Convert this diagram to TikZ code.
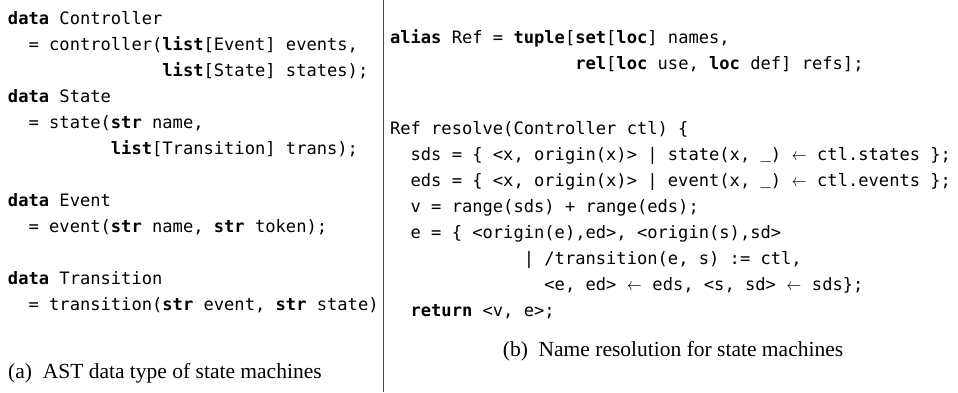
\documentclass[tikz,border=0pt]{standalone}
\usepackage{fontspec}
\setmainfont{Liberation Serif}
\setmonofont{DejaVu Sans Mono}
\newcommand{\kw}[1]{\textbf{#1}}
\newcommand{\larr}{\makebox[0.9em][c]{\scalebox{0.85}[1]{$\leftarrow$}}}
\newcommand{\usc}{\raisebox{1.5pt}{\_}}
\tikzset{
  codeline/.style={anchor=base west, inner sep=0pt, outer sep=0pt, font=\ttfamily\fontsize{17.1}{20}\selectfont},
  captiontext/.style={inner sep=0pt, font=\fontsize{21.5}{24}\selectfont},
  divider/.style={draw=black!70, line width=1pt}
}
\begin{document}
\begin{tikzpicture}[x=1pt,y=-1pt]
\useasboundingbox (0,0) rectangle (958,392);
% left column
\node[codeline] (l1) at (8,24) {\kw{data} Controller};
\node[codeline] (l2) at (8,50) {~~= controller(\kw{list}[Event] events,};
\node[codeline] (l3) at (8,76) {~~~~~~~~~~~~~~~\kw{list}[State] states);};
\node[codeline] (l4) at (8,102) {\kw{data} State};
\node[codeline] (l5) at (8,128) {~~= state(\kw{str} name,};
\node[codeline] (l6) at (8,154) {~~~~~~~~~~\kw{list}[Transition] trans);};
\node[codeline] (l7) at (8,206) {\kw{data} Event};
\node[codeline] (l8) at (8,232) {~~= event(\kw{str} name, \kw{str} token);};
\node[codeline] (l9) at (8,284) {\kw{data} Transition};
\node[codeline] (l10) at (8,310) {~~= transition(\kw{str} event, \kw{str} state)};
\node[captiontext, anchor=base west] (capa) at (8,378) {(a)\hspace{0.5em}AST data type of state machines};
% divider
\coordinate (dtop) at (383,0);
\coordinate (dbot) at (383,392);
\draw[divider] (dtop) -- (dbot);
% right column
\node[codeline] (r1) at (390,43) {\kw{alias} Ref = \kw{tuple}[\kw{set}[\kw{loc}] names,};
\node[codeline] (r2) at (390,69) {~~~~~~~~~~~~~~~~~~\kw{rel}[\kw{loc} use, \kw{loc} def] refs];};
\node[codeline] (r3) at (390,134) {Ref resolve(Controller ctl) \{};
\node[codeline] (r4) at (390,160) {~~sds = \{ <x, origin(x)> | state(x, \usc) \larr{} ctl.states \};};
\node[codeline] (r5) at (390,186) {~~eds = \{ <x, origin(x)> | event(x, \usc) \larr{} ctl.events \};};
\node[codeline] (r6) at (390,212) {~~v = range(sds) + range(eds);};
\node[codeline] (r7) at (390,238) {~~e = \{ <origin(e),ed>, <origin(s),sd>};
\node[codeline] (r8) at (390,264) {~~~~~~~~~~~~~| /transition(e, s) := ctl,};
\node[codeline] (r9) at (390,290) {~~~~~~~~~~~~~~~<e, ed> \larr{} eds, <s, sd> \larr{} sds\};};
\node[codeline] (r10) at (390,316) {~~\kw{return} <v, e>;};
\node[captiontext, anchor=base] (capb) at (673,356) {(b)\hspace{0.5em}Name resolution for state machines};
\end{tikzpicture}
\end{document}
